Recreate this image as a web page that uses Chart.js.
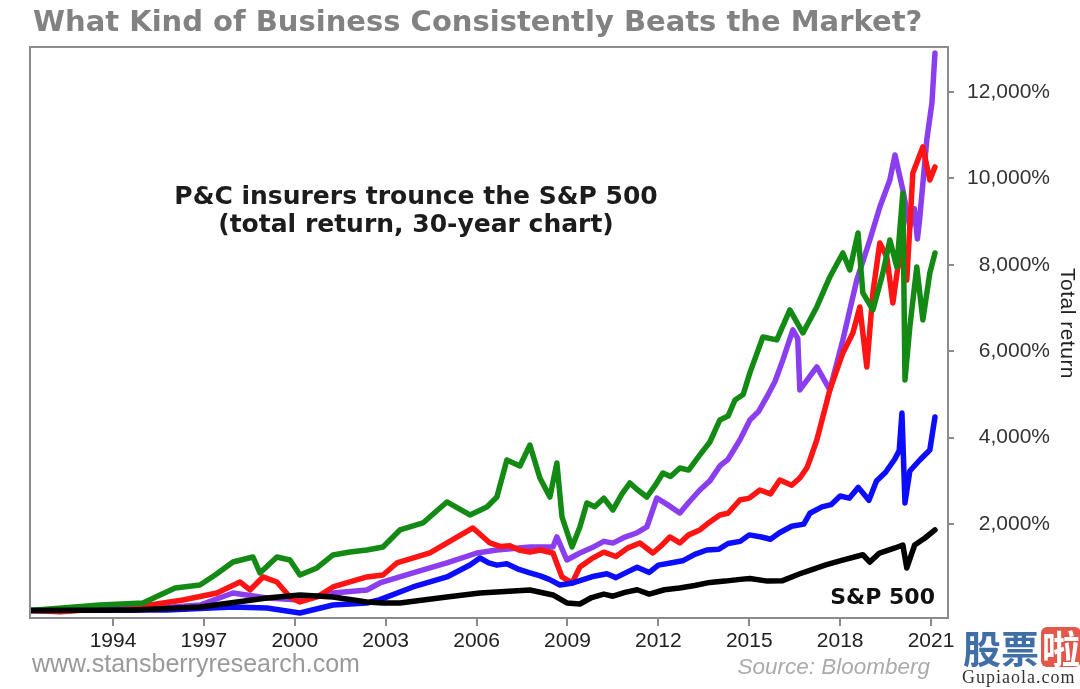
<!DOCTYPE html>
<html>
<head>
<meta charset="utf-8">
<script src="https://cdn.jsdelivr.net/npm/chart.js@4.4.1/dist/chart.umd.min.js"></script>
<style>
  body { margin: 0; background: #fff; }
  #wrap { position: relative; width: 1080px; height: 689px; overflow: hidden; }
  #wrap canvas { position: absolute; left: 0; top: 0; }
  .txt { position: absolute; white-space: nowrap; }
  .title { left: 33px; top: 7px; font: bold 29px "DejaVu Sans"; line-height: 29px; color: #828282; }
  .note { left: 416px; top: 182px; transform: translateX(-50%); text-align: center;
          font: bold 25px "DejaVu Sans"; line-height: 28px; color: #1c1c1c; }
  .spx { right: 145px; top: 586px; font: bold 22px "DejaVu Sans"; line-height: 22px; color: #111; }
  .ytitle { left: 1057px; top: 268px; writing-mode: vertical-rl; font: 21px "Liberation Sans";
            line-height: 22px; color: #222; letter-spacing: 0.5px; }
  .site { left: 32px; top: 651px; font: 25px "Liberation Sans"; line-height: 25px; color: #9a9a9a; }
  .src { right: 150px; top: 656px; font: italic 22.5px "Liberation Sans"; line-height: 22.5px; color: #ababab; }
  .logo { left: 963px; top: 626px; font: bold 38px "Noto Sans CJK SC"; line-height: 42px; color: #3f6fa6; }
  .logo span { display: inline-block; background: #e2594b; color: #fff; border-radius: 6px;
               width: 40px; height: 40px; line-height: 40px; text-align: center; margin-left: 2px; }
  .logo2 { left: 962px; top: 668px; font: 18px "Liberation Serif"; line-height: 18px; color: #333; letter-spacing: 1px; }
</style>
</head>
<body>
<div id="wrap">
  <canvas id="returnChart"></canvas>
  <div class="txt title">What Kind of Business Consistently Beats the Market?</div>
  <div class="txt note">P&amp;C insurers trounce the S&amp;P 500<br>(total return, 30-year chart)</div>
  <div class="txt spx">S&amp;P 500</div>
  <div class="txt ytitle">Total return</div>
  <div class="txt site">www.stansberryresearch.com</div>
  <div class="txt src">Source: Bloomberg</div>
  <div class="txt logo">股票<span>啦</span></div>
  <div class="txt logo2">Gupiaola.com</div>
</div>
<script>
// tick labels
const xTicks = [1994, 1997, 2000, 2003, 2006, 2009, 2012, 2015, 2018, 2021];
const yTicks = [2000, 4000, 6000, 8000, 10000, 12000];

// [year, total return %]
const sp500 = [[1991.26,0],[1994.66,12],[1996.87,81],[1999.08,289],[2000.17,359],[2001.26,313],
  [2002.38,197],[2002.91,174],[2003.47,174],[2005.02,313],[2006.11,405],[2007.76,475],[2008.52,359],
  [2008.98,174],[2009.41,150],[2009.8,300],[2010.2,380],[2010.5,330],[2010.9,420],[2011.3,480],
  [2011.7,380],[2012.2,480],[2012.7,520],[2013.2,580],[2013.7,650],[2014.2,680],[2014.7,720],
  [2015.02,740],[2015.6,680],[2016.1,690],[2016.67,850],[2017.0,930],[2017.5,1050],[2017.99,1150],
  [2018.75,1290],[2018.98,1120],[2019.3,1330],[2019.81,1447],[2020.07,1516],[2020.20,984],
  [2020.46,1516],[2020.80,1678],[2021.13,1864]];

const blue = [[1991.26,0],[1994.66,12],[1995.78,12],[1997.96,81],[1999.08,58],[2000.17,-58],
  [2001.26,127],[2002.38,174],[2002.81,250],[2003.90,544],[2005.02,776],[2005.78,1053],[2006.11,1215],
  [2006.4,1100],[2006.67,1050],[2007.0,1080],[2007.4,950],[2007.76,870],[2008.1,800],[2008.4,720],
  [2008.75,590],[2009.18,637],[2009.8,780],[2010.3,850],[2010.6,760],[2011.0,900],[2011.3,1000],
  [2011.7,880],[2012.0,1050],[2012.4,1100],[2012.8,1150],[2013.2,1300],[2013.6,1400],[2014.0,1420],
  [2014.3,1550],[2014.7,1600],[2015.0,1750],[2015.4,1700],[2015.7,1650],[2016.0,1800],[2016.4,1950],
  [2016.8,2000],[2017.0,2250],[2017.4,2400],[2017.7,2450],[2018.0,2650],[2018.3,2600],[2018.6,2850],
  [2018.95,2550],[2019.2,3000],[2019.5,3200],[2019.8,3500],[2019.95,3700],[2020.04,4572],
  [2020.14,2489],[2020.30,3229],[2020.63,3484],[2020.96,3715],[2021.13,4479]];

const red = [[1991.26,0],[1992.25,-30],[1994.0,58],[1995.22,127],[1996.31,243],[1997.43,405],
  [1998.19,660],[1998.52,475],[1998.95,776],[1999.41,660],[1999.84,313],[2000.17,197],[2000.73,313],
  [2001.26,544],[2002.38,776],[2002.91,822],[2003.37,1100],[2004.46,1331],[2005.88,1910],[2006.44,1563],
  [2006.8,1480],[2007.1,1500],[2007.4,1400],[2007.76,1354],[2008.1,1400],[2008.52,1331],[2008.82,776],
  [2009.15,637],[2009.41,1007],[2009.8,1200],[2010.2,1350],[2010.6,1250],[2011.0,1450],[2011.39,1563],
  [2011.82,1331],[2012.1,1500],[2012.38,1702],[2012.71,1563],[2013.0,1750],[2013.37,1864],[2013.7,2050],
  [2014.03,2211],[2014.3,2250],[2014.69,2558],[2015.0,2600],[2015.35,2790],[2015.7,2700],[2016.01,3021],
  [2016.4,2900],[2016.67,3067],[2016.9,3300],[2017.00,3484],[2017.23,3947],[2017.66,5105],
  [2018.09,5962],[2018.42,6425],[2018.65,7026],[2018.88,5638],[2019.08,7350],[2019.31,8508],
  [2019.54,8184],[2019.74,7119],[2019.97,8276],[2020.20,7651],[2020.40,10128],[2020.73,10730],
  [2020.96,9966],[2021.13,10267]];

const purple = [[1991.26,0],[1994.66,12],[1996.87,127],[1997.96,405],[1999.08,289],[2000.17,243],
  [2001.26,405],[2002.38,475],[2002.81,637],[2003.90,868],[2005.02,1100],[2006.01,1331],[2006.67,1401],
  [2007.76,1470],[2008.52,1470],[2008.65,1702],[2008.98,1169],[2009.41,1331],[2009.8,1450],
  [2010.2,1600],[2010.5,1560],[2010.9,1700],[2011.3,1800],[2011.62,1933],[2011.95,2604],[2012.3,2450],
  [2012.71,2257],[2013.0,2500],[2013.37,2790],[2013.7,3000],[2014.03,3345],[2014.3,3500],[2014.69,3947],
  [2015.02,4410],[2015.3,4600],[2015.58,4943],[2015.85,5300],[2016.11,5800],[2016.44,6494],
  [2016.60,6300],[2016.67,5105],[2017.23,5638],[2017.66,5105],[2018.09,6263],[2018.55,7651],
  [2018.98,8576],[2019.31,9341],[2019.64,9966],[2019.81,10545],[2020.07,9734],[2020.30,8878],
  [2020.45,9300],[2020.55,8600],[2020.63,9100],[2020.86,10892],[2021.03,11749],[2021.13,12906]];

const green = [[1991.26,0],[1993.57,127],[1994.99,174],[1995.55,359],[1996.05,521],[1996.87,590],
  [1997.37,822],[1997.96,1123],[1998.62,1238],[1998.85,868],[1999.41,1238],[1999.84,1169],[2000.17,822],
  [2000.73,984],[2001.26,1285],[2001.82,1354],[2002.38,1401],[2002.91,1470],[2003.47,1864],[2004.23,2026],
  [2005.02,2512],[2005.78,2211],[2006.34,2396],[2006.67,2627],[2007.00,3484],[2007.43,3345],
  [2007.76,3831],[2008.09,3067],[2008.42,2627],[2008.65,3414],[2008.82,2164],[2009.15,1470],
  [2009.41,1933],[2009.64,2489],[2009.9,2400],[2010.2,2600],[2010.50,2327],[2010.8,2700],[2011.06,2952],
  [2011.3,2800],[2011.62,2627],[2011.9,2900],[2012.15,3183],[2012.4,3100],[2012.71,3299],[2013.0,3250],
  [2013.37,3600],[2013.7,3900],[2014.03,4410],[2014.3,4500],[2014.53,4873],[2014.8,5000],[2015.02,5499],
  [2015.45,6332],[2015.91,6263],[2016.34,6958],[2016.77,6425],[2017.23,7026],[2017.66,7721],
  [2018.09,8276],[2018.32,7883],[2018.59,8739],[2018.75,7350],[2019.08,6958],[2019.41,7813],
  [2019.64,8576],[2019.87,7952],[2020.07,9665],[2020.14,5336],[2020.30,6564],[2020.53,7952],
  [2020.73,6726],[2020.96,7813],[2021.13,8276]];

const pts = arr => arr.map(p => ({ x: p[0], y: p[1] }));

// grey box round the plot area
const frame = {
  id: 'frame',
  afterDatasetsDraw(chart) {
    const { ctx, chartArea: a } = chart;
    ctx.save();
    ctx.strokeStyle = '#8c8c8c';
    ctx.lineWidth = 2;
    ctx.strokeRect(a.left, a.top, a.right - a.left, a.bottom - a.top);
    ctx.restore();
  }
};

const tickFont = { family: 'Liberation Sans', size: 21 };

new Chart(document.getElementById('returnChart'), {
  type: 'line',
  data: {
    // first dataset is drawn on top
    datasets: [
      { data: pts(sp500), borderColor: '#000000' },
      { data: pts(green), borderColor: '#138a13' },
      { data: pts(blue), borderColor: '#0c0cff' },
      { data: pts(red), borderColor: '#ff1414' },
      { data: pts(purple), borderColor: '#8b3ef0' }
    ]
  },
  options: {
    responsive: true,
    maintainAspectRatio: false,
    animation: false,
    devicePixelRatio: 1,
    layout: { padding: { left: 30, top: 47, right: 30, bottom: 0 } },
    elements: {
      point: { radius: 0 },
      line: { borderWidth: 5.5, tension: 0, borderJoinStyle: 'round', borderCapStyle: 'round' }
    },
    plugins: { legend: { display: false }, tooltip: { enabled: false } },
    scales: {
      x: {
        type: 'linear',
        min: 1991.26,
        max: 2021.56,
        afterBuildTicks: s => { s.ticks = xTicks.map(v => ({ value: v })); },
        afterFit: s => { s.height = 71; },
        border: { display: false },
        grid: { drawOnChartArea: false, drawTicks: true, tickLength: 8, color: '#8c8c8c', lineWidth: 2 },
        ticks: { padding: 3, color: '#222', font: tickFont, maxRotation: 0, autoSkip: false,
                 callback: v => String(v) }
      },
      y: {
        position: 'right',
        min: -174,
        max: 13044,
        afterBuildTicks: s => { s.ticks = yTicks.map(v => ({ value: v })); },
        afterFit: s => { s.width = 102; },
        border: { display: false },
        grid: { drawOnChartArea: false, drawTicks: true, tickLength: 6, color: '#8c8c8c', lineWidth: 2 },
        ticks: { padding: 9, crossAlign: 'far', color: '#333', font: tickFont,
                 callback: v => v.toLocaleString('en-US') + '%' }
      }
    }
  },
  plugins: [frame]
});
</script>
</body>
</html>
